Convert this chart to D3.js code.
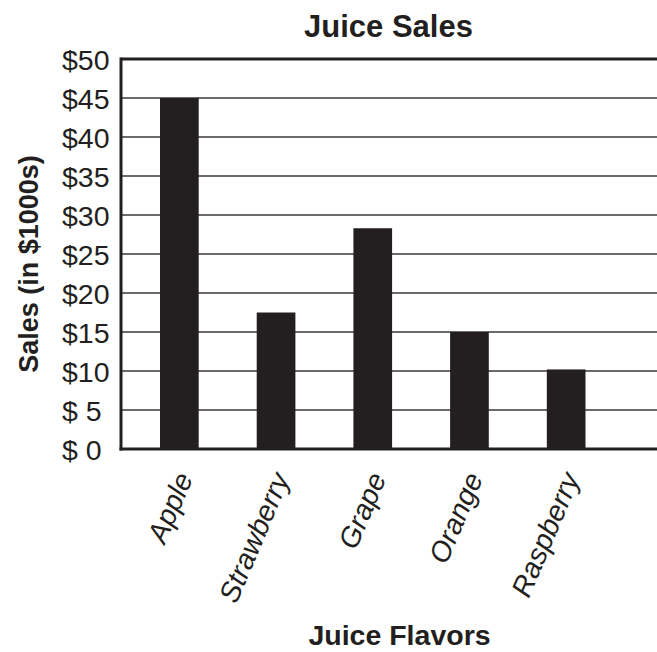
<!DOCTYPE html>
<html><head><meta charset="utf-8">
<script src="https://cdn.jsdelivr.net/npm/d3@7"></script>
<style>body{margin:0;background:#fff}svg{display:block;font-family:"Liberation Sans",Arial,Helvetica,sans-serif}</style>
</head><body>
<svg id="c" width="657" height="652"></svg>
<script>
const categories = ["Apple","Strawberry","Grape","Orange","Raspberry"];
const sales = [45, 17.5, 28.3, 15, 10.2];
const yTicks = [0,5,10,15,20,25,30,35,40,45,50];
const yTickLabels = ["$ 0","$ 5","$10","$15","$20","$25","$30","$35","$40","$45","$50"];

const svg = d3.select("#c");
const L = 121, R = 657, T = 59, B = 449;
const x = d3.scaleBand().domain(categories).range([131, 614.5]).paddingInner(0.6).paddingOuter(0.3);
const y = d3.scaleLinear().domain([0,50]).range([B, T]);

// gridlines
svg.append("g").selectAll("line").data(yTicks.filter(v=>v>0 && v<50)).join("line")
  .attr("x1", L).attr("x2", R).attr("y1", d=>y(d)).attr("y2", d=>y(d))
  .attr("stroke", "#6a6a6a").attr("stroke-width", 2);
// top border
svg.append("line").attr("x1", L).attr("x2", R).attr("y1", y(50)).attr("y2", y(50))
  .attr("stroke", "#231f20").attr("stroke-width", 3);

// bars
svg.append("g").selectAll("rect").data(categories).join("rect")
  .attr("x", d=>x(d)).attr("width", x.bandwidth())
  .attr("y", (d,i)=>y(sales[i])).attr("height", (d,i)=>B - y(sales[i]))
  .attr("fill", "#231f20");

// y axis
const yAxis = d3.axisLeft(y).tickValues(yTicks).tickSize(0).tickPadding(0)
  .tickFormat((d,i)=>yTickLabels[i]);
const gy = svg.append("g").attr("transform", `translate(${L},0)`).call(yAxis);
gy.select(".domain").remove();
gy.selectAll("text").attr("text-anchor","start").attr("x", -59).attr("dy","0.36em")
  .style("font-size","28.5px").attr("fill","#231f20");
svg.append("line").attr("x1", L).attr("x2", L).attr("y1", T-1.5).attr("y2", B+1.5)
  .attr("stroke","#231f20").attr("stroke-width",3);

// x axis
const xAxis = d3.axisBottom(x).tickSize(0).tickPadding(0);
const gx = svg.append("g").attr("transform", `translate(0,${B})`).call(xAxis);
gx.select(".domain").remove();
gx.selectAll("text").attr("text-anchor","end").attr("dy", null).attr("y", 0)
  .attr("transform", "translate(14,29) rotate(-67)")
  .style("font-size","28.5px").style("font-style","italic").attr("fill","#231f20");
svg.append("line").attr("x1", L-1.5).attr("x2", R).attr("y1", B).attr("y2", B)
  .attr("stroke","#231f20").attr("stroke-width",3);

// titles
svg.append("text").attr("x", 388.5).attr("y", 37).attr("text-anchor","middle")
  .style("font-size","31px").style("font-weight","bold").attr("fill","#231f20").text("Juice Sales");
svg.append("text").attr("x", 399.5).attr("y", 645).attr("text-anchor","middle")
  .style("font-size","28.5px").style("font-weight","bold").attr("fill","#231f20").text("Juice Flavors");
svg.append("text").attr("transform","translate(38,264) rotate(-90)").attr("text-anchor","middle")
  .style("font-size","27px").style("font-weight","bold").attr("fill","#231f20").text("Sales (in $1000s)");
</script>
</body></html>
